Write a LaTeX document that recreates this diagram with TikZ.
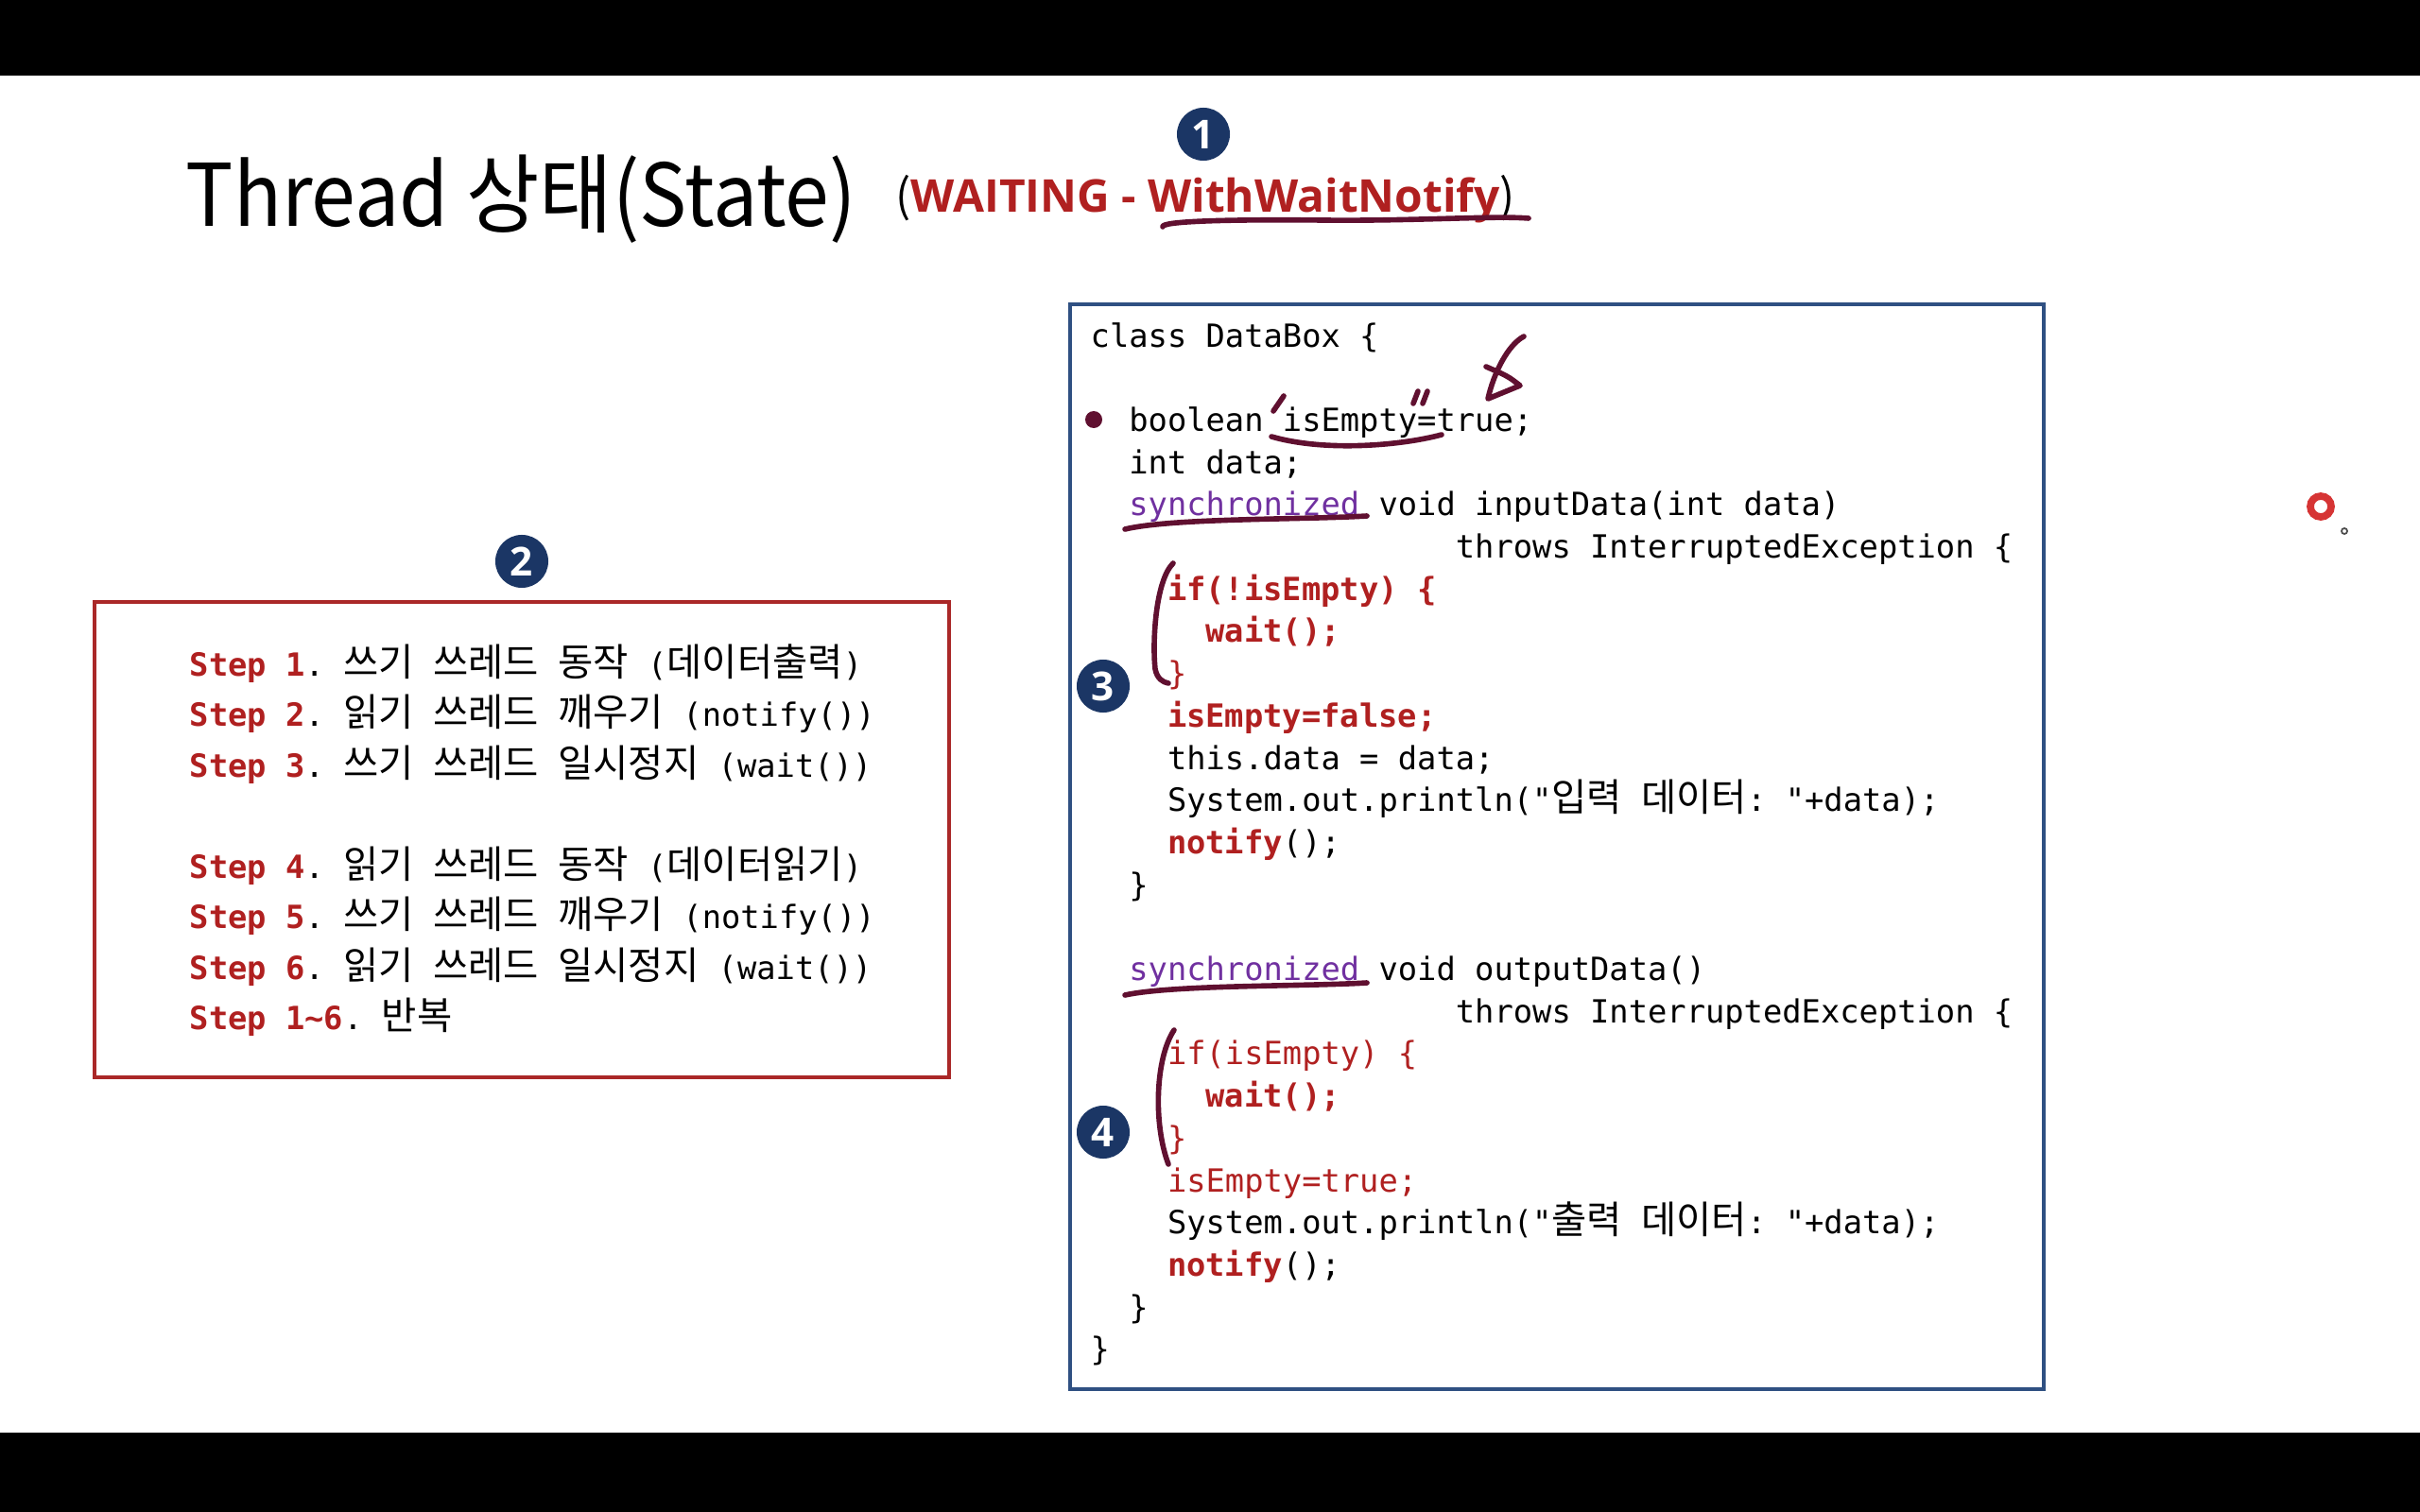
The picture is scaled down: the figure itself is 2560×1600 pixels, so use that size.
\documentclass[tikz,border=0pt]{standalone}
\usepackage{fontspec}
\setmainfont{Noto Sans CJK KR}
\setmonofont{DejaVu Sans Mono}
\newfontfamily\kr[Scale=1.2]{Noto Sans CJK KR}
\newfontfamily\titlefont[FakeStretch=0.92]{Noto Sans CJK KR}
\newfontfamily\opensans{Open Sans}

\definecolor{navy}{RGB}{27,54,101}
\definecolor{codered}{RGB}{176,32,32}
\definecolor{ink}{RGB}{96,16,48}
\definecolor{synpurple}{RGB}{112,48,160}
\definecolor{boxred}{RGB}{170,40,40}
\definecolor{boxblue}{RGB}{47,80,130}
\definecolor{ringred}{RGB}{214,52,52}

\newcommand\ind[1]{\hspace*{#1\fontcharwd\font`\x}}
\newcommand\K[1]{{\kr #1}}
\newcommand\kw[1]{\textcolor{codered}{\bfseries #1}}
\newcommand\rd[1]{\textcolor{codered}{#1}}
\newcommand\stp[1]{\textcolor{codered}{\bfseries Step #1}}
\newcommand\syn{\textcolor{synpurple}{synchronized}}

\tikzset{
  codeline/.style={anchor=base west, inner sep=0pt, font=\ttfamily\fontsize{9.6}{11}\selectfont},
  num/.style={circle, fill=navy, text=white, inner sep=0pt, minimum size=0.56cm,
    font=\opensans\bfseries\fontsize{12}{12}\selectfont},
  pen/.style={draw=ink, line width=1.6pt, line cap=round, line join=round},
}

\begin{document}
\begin{tikzpicture}[x=0.01cm,y=-0.01cm]
\useasboundingbox (0,0) rectangle (2560,1600);
\fill[white] (0,0) rectangle (2560,1600);
\fill[black] (0,0) rectangle (2560,80);
\fill[black] (0,1516) rectangle (2560,1600);

% title
\node[anchor=base west, inner sep=0pt, font=\titlefont\fontsize{26}{30}\selectfont] (t) at (196,240) {Thread 상태(State)};
\node[anchor=base west, inner sep=0pt, font=\fontsize{13.6}{15}\selectfont] (w) at (947,225)
  {(\textcolor{codered}{\opensans\bfseries WAITING - WithWaitNotify})};
\node[num] (n1) at (1273,142) {1};
\draw[pen] (1230,240) .. controls (1228,234) and (1300,232) .. (1400,233)
  .. controls (1500,234) and (1580,228) .. (1617,231);

% steps
\draw[boxred, line width=1pt] (100,637) rectangle (1004,1140);
\node[num] (n2) at (552,594) {2};
\foreach \t [count=\i from 0] in {
  {\stp{1}. \K{쓰기} \K{쓰레드} \K{동작} (\K{데이터출력})},
  {\stp{2}. \K{읽기} \K{쓰레드} \K{깨우기} (notify())},
  {\stp{3}. \K{쓰기} \K{쓰레드} \K{일시정지} (wait())},
  {},
  {\stp{4}. \K{읽기} \K{쓰레드} \K{동작} (\K{데이터읽기})},
  {\stp{5}. \K{쓰기} \K{쓰레드} \K{깨우기} (notify())},
  {\stp{6}. \K{읽기} \K{쓰레드} \K{일시정지} (wait())},
  {\stp{1\textasciitilde6}. \K{반복}}}
  \node[codeline] (s\i) at (200,{715+\i*53.5}) {\t};

% code
\draw[boxblue, line width=1pt] (1132,322) rectangle (2162,1470);
\foreach \t [count=\i from 0] in {
  {class DataBox \{},
  {},
  {\ind{2}boolean isEmpty=true;},
  {\ind{2}int data;},
  {\ind{2}\syn{} void inputData(int data)},
  {\ind{19}throws InterruptedException \{},
  {\ind{4}\kw{if(!isEmpty) \{}},
  {\ind{6}\kw{wait();}},
  {\ind{4}\rd{\}}},
  {\ind{4}\kw{isEmpty=false;}},
  {\ind{4}this.data = data;},
  {\ind{4}System.out.println("\K{입력} \K{데이터}: "+data);},
  {\ind{4}\kw{notify}();},
  {\ind{2}\}},
  {},
  {\ind{2}\syn{} void outputData()},
  {\ind{19}throws InterruptedException \{},
  {\ind{4}\rd{if(isEmpty) \{}},
  {\ind{6}\kw{wait();}},
  {\ind{4}\rd{\}}},
  {\ind{4}\rd{isEmpty=true;}},
  {\ind{4}System.out.println("\K{출력} \K{데이터}: "+data);},
  {\ind{4}\kw{notify}();},
  {\ind{2}\}},
  {\}}}
  \node[codeline] (c\i) at (1153,{367+\i*44.7}) {\t};

% pen marks
\fill[ink] (1157,444) circle (9);
\draw[pen] (1347,435) -- (1358,419);
\draw[pen] (1495,427) -- (1500,414);
\draw[pen] (1505,427) -- (1510,414);
\draw[pen] (1345,462) .. controls (1400,478) and (1480,472) .. (1525,460);
\draw[pen] (1612,356) .. controls (1595,365) and (1580,395) .. (1574,422)
  -- (1608,408) .. controls (1595,398) .. (1572,388);
\draw[pen] (1190,560) .. controls (1240,548) and (1380,550) .. (1446,546);
\draw[pen] (1241,596) .. controls (1222,615) and (1219,680) .. (1222,708)
  .. controls (1224,718) and (1230,722) .. (1236,723);
\node[num] (n3) at (1167,726) {3};
\draw[pen] (1190,1053) .. controls (1240,1042) and (1380,1044) .. (1446,1040);
\draw[pen] (1242,1090) .. controls (1222,1120) and (1220,1190) .. (1236,1232);
\node[num] (n4) at (1167,1198) {4};

% cursor
\draw[ringred, line width=2.2pt] (2455,536) circle (11);
\draw[black!70, line width=0.5pt] (2480,562) circle (3);
\end{tikzpicture}
\end{document}
